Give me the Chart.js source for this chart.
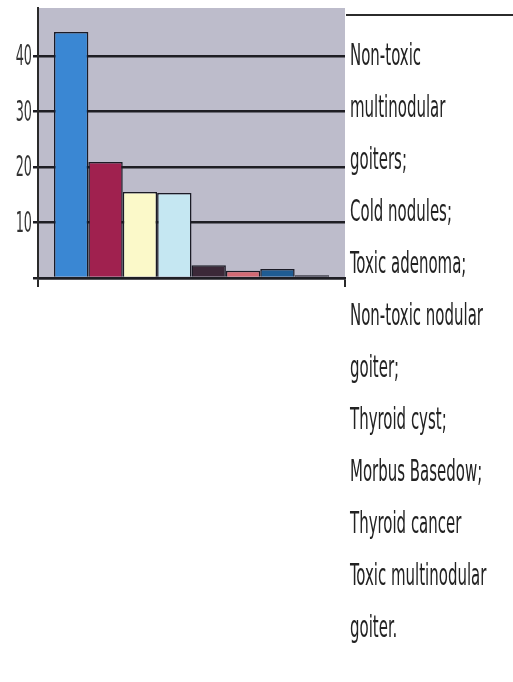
<!DOCTYPE html>
<html>
<head>
<meta charset="utf-8">
<script src="https://cdn.jsdelivr.net/npm/chart.js@4/dist/chart.umd.min.js"></script>
<style>
  html, body { margin: 0; padding: 0; background: #fff; width: 513px; height: 682px; overflow: hidden; }
  #plot { position: absolute; left: 0; top: 0; width: 350px; height: 300px; }
  #rule { position: absolute; left: 346px; top: 14px; width: 167px; height: 2px; background: #2b2b2b; }
  #names { position: absolute; left: 350px; top: 29px; font-family: 'Liberation Sans Narrow', 'DejaVu Sans Condensed', 'Liberation Sans', sans-serif; font-size: 30px; line-height: 52px; color: #222; }
  #names div { white-space: nowrap; transform: scaleX(0.555); transform-origin: left center; }
</style>
</head>
<body>
<div id="plot"><canvas id="chart_goiterBars"></canvas></div>
<div id="rule"></div>
<div id="names"></div>
<script>
// diagnoses, in bar order (each entry = the text lines shown at right)
var categories = [
    ['Non-toxic', 'multinodular', 'goiters;'],
    ['Cold nodules;'],
    ['Toxic adenoma;'],
    ['Non-toxic nodular', 'goiter;'],
    ['Thyroid cyst;'],
    ['Morbus Basedow;'],
    ['Thyroid cancer'],
    ['Toxic multinodular', 'goiter.']
];
var values = [44.3, 20.9, 15.5, 15.3, 2.3, 1.3, 1.6, 0.5];
var barColors = ['#3a87d3', '#a0214f', '#fbf9c9', '#c5e7f2', '#3b2838', '#d26a74', '#1f5c93', '#2a2a38'];
var yTicks = [0, 10, 20, 30, 40];

// text list on the right
var names = document.getElementById('names');
categories.forEach(function (lines) {
    lines.forEach(function (t) {
        var d = document.createElement('div');
        d.textContent = t;
        names.appendChild(d);
    });
});

var chart_goiterBars = new Chart(document.getElementById('chart_goiterBars'), {
    type: 'bar',
    data: {
        labels: [''],
        datasets: categories.map(function (c, i) {
            return {
                label: c.join(' '),
                data: [values[i]],
                backgroundColor: barColors[i],
                borderColor: '#1b1b26',
                borderWidth: 1.5,
                barPercentage: 1,
                categoryPercentage: 0.896
            };
        })
    },
    options: {
        animation: false,
        responsive: true,
        maintainAspectRatio: false,
        layout: { padding: { top: 8, right: 5, left: 0, bottom: 0 } },
        plugins: {
            legend: { display: false },
            tooltip: { enabled: false }
        },
        scales: {
            x: {
                grid: {
                    display: true,
                    drawOnChartArea: false,
                    drawTicks: true,
                    tickLength: 9,
                    color: '#2a2a2a',
                    lineWidth: 2
                },
                border: { display: true, color: '#1e1e24', width: 2.5 },
                ticks: { display: false },
                afterFit: function (scale) { scale.height = 22; }
            },
            y: {
                min: 0,
                max: 48.6,
                ticks: { display: false, stepSize: 10 },
                afterBuildTicks: function (scale) {
                    scale.ticks = yTicks.map(function (v) { return { value: v }; });
                },
                grid: {
                    color: '#1e1e24',
                    lineWidth: 2.5,
                    drawTicks: true,
                    tickLength: 5
                },
                border: { display: true, color: '#2a2a2a', width: 2 },
                afterFit: function (scale) { scale.width = 38; }
            }
        }
    },
    plugins: [{
        id: 'plotBackground',
        beforeDraw: (chart, args, options) => {
            const ctx = chart.ctx;
            const a = chart.chartArea;
            ctx.save();
            ctx.fillStyle = '#bdbccb';
            ctx.fillRect(a.left, a.top, a.right - a.left, a.bottom - a.top);
            ctx.restore();
        }
    }, {
        id: 'narrowTickLabels',
        afterDraw: (chart, args, options) => {
            const ctx = chart.ctx;
            const y = chart.scales.y;
            ctx.save();
            ctx.fillStyle = '#333';
            ctx.font = "29px 'Liberation Sans Narrow', 'DejaVu Sans Condensed', sans-serif";
            ctx.textAlign = 'right';
            ctx.textBaseline = 'middle';
            yTicks.forEach(function (v) {
                if (v === 0) return;
                ctx.save();
                ctx.translate(32, y.getPixelForValue(v) + 2);
                ctx.scale(0.49, 1);
                ctx.fillText(String(v), 0, 0);
                ctx.restore();
            });
            ctx.restore();
        }
    }]
});
</script>
</body>
</html>
